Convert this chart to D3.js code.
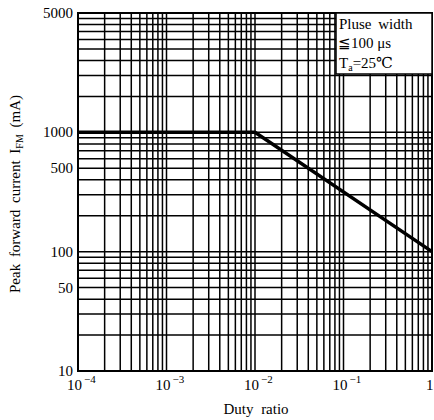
<!DOCTYPE html>
<html>
<head>
<meta charset="utf-8">
<script src="https://cdn.jsdelivr.net/npm/d3@7"></script>
<style>
  body { margin: 0; background: #fff; }
  text { font-family: "Liberation Serif", "DejaVu Serif", serif; fill: #000; }
</style>
</head>
<body>
<script>
// curve: peak forward current vs duty ratio
var duty = [1e-4, 1e-2, 1];
var current = [1000, 1000, 100];

// y ticks (top label reads 5000 in the original)
var yTickValues = [10, 50, 100, 500, 1000, 10000];
var yTickLabels = ["10", "50", "100", "500", "1000", "5000"];

// x ticks
var xTickValues = [1e-4, 1e-3, 1e-2, 1e-1, 1];
var xTickExp = ["\u22124", "\u22123", "\u22122", "\u22121", null];

var legendLines = ["Pluse width", "\u2266100 \u03bcs", "Ta=25\u2103"];

var width = 434, height = 420;
var margin = {left: 78, right: 2, top: 13, bottom: 49};

var svg = d3.select("body").append("svg")
    .attr("width", width)
    .attr("height", height);

var x = d3.scaleLog()
    .domain([1e-4, 1])
    .range([margin.left, width - margin.right]);
var y = d3.scaleLog()
    .domain([10, 10000])
    .range([height - margin.bottom, margin.top]);

//////////////////////// grid ////////////////////////
var xGrid = [], yGrid = [];
for (var e = -4; e < 0; e++) {
  for (var m = 1; m < 10; m++) xGrid.push(m * Math.pow(10, e));
}
xGrid.push(1);
for (var e2 = 1; e2 < 4; e2++) {
  for (var m2 = 1; m2 < 10; m2++) yGrid.push(m2 * Math.pow(10, e2));
}
yGrid.push(10000);

var grid = svg.append("g")
    .attr("stroke", "#000")
    .attr("stroke-width", 1.5);

grid.selectAll(".vx")
  .data(xGrid)
  .enter()
  .append("line")
  .attr("x1", d => x(d))
  .attr("x2", d => x(d))
  .attr("y1", y(10))
  .attr("y2", y(10000));

grid.selectAll(".hy")
  .data(yGrid)
  .enter()
  .append("line")
  .attr("x1", x(1e-4))
  .attr("x2", x(1))
  .attr("y1", d => y(d))
  .attr("y2", d => y(d));

// frame
svg.append("rect")
    .attr("x", x(1e-4))
    .attr("y", y(10000))
    .attr("width", x(1) - x(1e-4))
    .attr("height", y(10) - y(10000))
    .attr("fill", "none")
    .attr("stroke", "#000")
    .attr("stroke-width", 2);

//////////////////////// curve ////////////////////////
var line = d3.line()
    .x((d, i) => x(duty[i]))
    .y(d => y(d));

svg.append("path")
    .datum(current)
    .attr("d", line)
    .attr("fill", "none")
    .attr("stroke", "#000")
    .attr("stroke-width", 3.5);

//////////////////////// legend ////////////////////////
var lg = svg.append("g");
lg.append("rect")
    .attr("x", 336)
    .attr("y", y(10000))
    .attr("width", x(1) - 336)
    .attr("height", 61)
    .attr("fill", "#fff")
    .attr("stroke", "#000")
    .attr("stroke-width", 1.5);

lg.append("text")
    .attr("x", 339).attr("y", 29)
    .style("font-size", "15px")
    .style("word-spacing", "3px")
    .text(legendLines[0]);
lg.append("text")
    .attr("x", 338).attr("y", 48)
    .style("font-size", "15px")
    .text(legendLines[1]);
var t3 = lg.append("text")
    .attr("x", 339).attr("y", 68)
    .style("font-size", "15px");
t3.append("tspan").text("T");
t3.append("tspan").attr("dy", 3).style("font-size", "10px").text("a");
t3.append("tspan").attr("dy", -3).text("=25\u2103");

//////////////////////// axes labels ////////////////////////
svg.append("g")
  .selectAll("text")
  .data(yTickValues)
  .enter()
  .append("text")
  .attr("x", margin.left - 5)
  .attr("y", d => y(d) + 5)
  .attr("text-anchor", "end")
  .style("font-size", "15px")
  .text((d, i) => yTickLabels[i]);

var xl = svg.append("g")
  .selectAll("text")
  .data(xTickValues)
  .enter()
  .append("text")
  .attr("x", (d, i) => xTickExp[i] ? x(d) - 11 : x(d) - 6)
  .attr("y", 390)
  .style("font-size", "15px");
xl.append("tspan").text(d => d === 1 ? "1" : "10");
xl.filter((d, i) => xTickExp[i])
  .append("tspan")
  .attr("dx", 2)
  .attr("dy", -7)
  .style("font-size", "11px")
  .text((d, i) => xTickExp[xTickValues.indexOf(d)]);

svg.append("text")
    .attr("x", 256)
    .attr("y", 414)
    .attr("text-anchor", "middle")
    .style("font-size", "15px")
    .style("word-spacing", "4px")
    .text("Duty ratio");

var yl = svg.append("text")
    .attr("transform", "translate(20," + 194 + ") rotate(-90)")
    .attr("text-anchor", "middle")
    .style("font-size", "15px")
    .style("word-spacing", "3px");
yl.append("tspan").text("Peak forward current I");
yl.append("tspan").attr("dy", 3).style("font-size", "10px").text("FM");
yl.append("tspan").attr("dy", -3).text(" (mA)");
</script>
</body>
</html>
